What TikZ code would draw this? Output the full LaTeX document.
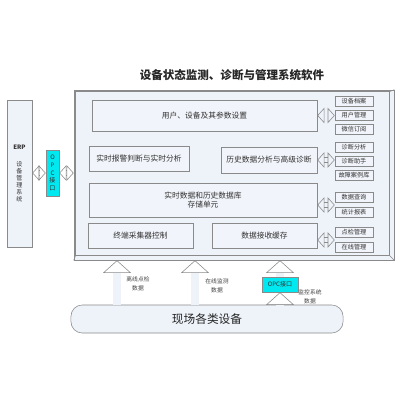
\documentclass[tikz,border=0pt]{standalone}
\usepackage{fontspec}
\setmainfont{Noto Sans CJK SC}
\usepackage{tikz}
\usetikzlibrary{arrows.meta, positioning, calc}
\definecolor{panel}{HTML}{EEF2F9}
\definecolor{boxfill}{HTML}{F1F4FA}
\definecolor{edge}{HTML}{8A8A8A}
\definecolor{opc}{HTML}{00E8F0}
\tikzstyle{box} = [draw=edge, fill=boxfill, inner sep=0pt, align=center, text=black!80, font=\fontsize{5.5}{7}\selectfont]
\tikzstyle{small} = [box, minimum width=0.95cm, minimum height=0.25cm, font=\fontsize{4.4}{5}\selectfont]
\tikzstyle{hollow} = [draw=edge, double=panel, double distance=3pt, line width=0.4pt, {Triangle[open, length=5pt, width=11pt]}-{Triangle[open, length=5pt, width=11pt]}]
\tikzstyle{uparrow} = [draw=edge, double=panel, double distance=5pt, line width=0.4pt, -{Triangle[open, length=9pt, width=20pt]}]

\begin{document}
\begin{tikzpicture}[x=0.025cm, y=-0.025cm]
\useasboundingbox (0,0) rectangle (400,400);
% Title
\node (title) at (232,75) [font=\fontsize{8.2}{9}\selectfont\bfseries, text=black!85] {设备状态监测、诊断与管理系统软件};

% Main panel
\node (main) at (234,175) [draw=edge, fill=panel, minimum width=8cm, minimum height=4.25cm] {};
\draw [edge] ($(main.north west)+(2,2)$) rectangle ($(main.south east)+(-5,-5)$);
\draw [edge] (main.north east) -- ++(-5,2);
\draw [edge] (main.south east) -- ++(-5,-5);
\draw [edge] (main.south west) -- ++(2,-5);

% ERP side
\node (erp) at (19.5,173.5) [box, fill=panel, minimum width=0.625cm, minimum height=3.675cm, font=\fontsize{4.3}{4.9}\selectfont] {\textbf{ERP}\\[7pt]设\\备\\管\\理\\系\\统};
\node (opcL) at (52.5,173) [box, fill=opc, minimum width=0.325cm, minimum height=1.15cm, font=\fontsize{4.3}{5.5}\selectfont] {O\\P\\C\\接\\口};

% Inner modules
\node (setup) at (204.5,115.5) [box, minimum width=5.625cm, minimum height=0.775cm] {用户、设备及其参数设置};
\node (alarm) at (139,158.5) [box, minimum width=2.5cm, minimum height=0.625cm] {实时报警判断与实时分析};
\node (hist) at (269,160) [box, minimum width=2.4cm, minimum height=0.65cm] {历史数据分析与高级诊断};
\node (db) at (203,200) [box, minimum width=5.7cm, minimum height=0.85cm] {实时数据和历史数据库\\存储单元};
\node (term) at (140.5,235.5) [box, minimum width=2.625cm, minimum height=0.625cm] {终端采集器控制};
\node (recv) at (264.5,235.5) [box, minimum width=2.625cm, minimum height=0.625cm] {数据接收缓存};

% Right column
\node (da) at (354,101) [small] {设备档案};
\node (yh) at (354,115.5) [small] {用户管理};
\node (wx) at (354,129) [small] {微信订阅};
\node (zf) at (354,147) [small] {诊断分析};
\node (zs) at (354,161.5) [small] {诊断助手};
\node (gz) at (354,175) [small] {故障案例库};
\node (cx) at (354,197.5) [small] {数据查询};
\node (tj) at (354,212) [small] {统计报表};
\node (dj) at (354,232) [small] {点检管理};
\node (zx) at (354,247.5) [small] {在线管理};

% Field devices
\node (field) at (207,319) [draw=edge, fill=panel, rounded corners=8pt, minimum width=6.8cm, minimum height=0.7cm, font=\fontsize{8.3}{9}\selectfont, text=black!85] {现场各类设备};
\node (opcB) at (280,284.5) [box, fill=opc, minimum width=0.9cm, minimum height=0.375cm, font=\fontsize{4.3}{5}\selectfont] {OPC接口};

% Labels
\node (lbl1) at (138,284) [align=center, font=\fontsize{4.1}{6}\selectfont, text=black!75] {离线点检\\数据};
\node (lbl2) at (217,286) [align=center, font=\fontsize{4.1}{6}\selectfont, text=black!75] {在线监测\\数据};
\node (lbl3) at (310,297) [align=center, font=\fontsize{4.1}{6}\selectfont, text=black!75] {监控系统\\数据};

% Links
\draw [hollow] (erp.east |- opcL) -- (opcL.west);
\draw [hollow] (opcL.east) -- (main.west |- opcL);
\draw [hollow] (setup.east) -- (yh.west);
\draw [hollow] (hist.east) -- (hist.east -| zs.west);
\draw [hollow] (db.east |- 0,205) -- (cx.west |- 0,205);
\draw [hollow] (recv.east |- 0,240) -- (dj.west |- 0,240);

\coordinate (up1) at (117,0);
\coordinate (up2) at (195,0);
\draw [uparrow] (field.north -| up1) -- (main.south -| up1);
\draw [uparrow] (field.north -| up2) -- (main.south -| up2);
\draw [uparrow] (field.north -| opcB) -- (opcB.south);
\draw [uparrow] (opcB.north) -- (main.south -| opcB);
\end{tikzpicture}
\end{document}
